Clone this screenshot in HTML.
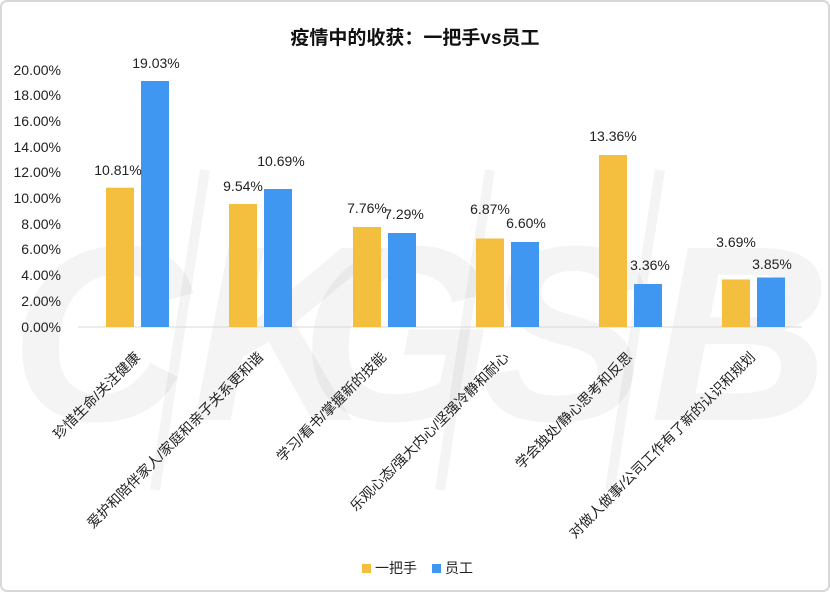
<!DOCTYPE html>
<html><head><meta charset="utf-8"><style>
body{margin:0;background:#fff;}
svg{display:block;font-family:"Liberation Sans","Noto Sans CJK SC",sans-serif;}
</style></head><body>
<svg width="830" height="592" viewBox="0 0 830 592">
<rect x="1" y="1" width="828" height="590" rx="6" fill="#fff" stroke="#d8d8d8" stroke-width="2"/>
<g fill="#000" fill-opacity="0.045" font-size="250" font-weight="bold" font-style="italic" font-family="Liberation Sans,sans-serif">
<text x="10" y="420">CK</text><text x="300" y="420">G</text><text x="480" y="420">S</text><text x="650" y="420">B</text>
</g>
<g stroke="#000" stroke-opacity="0.045" stroke-width="10">
<line x1="155" y1="490" x2="205" y2="170"/><line x1="440" y1="490" x2="490" y2="170"/><line x1="610" y1="490" x2="660" y2="170"/>
</g>
<text x="415" y="44" text-anchor="middle" font-size="19" font-weight="bold" fill="#111">疫情中的收获：一把手vs员工</text>
<g font-size="14" fill="#222" text-anchor="end">
<text x="61" y="332">0.00%</text>
<text x="61" y="306">2.00%</text>
<text x="61" y="280">4.00%</text>
<text x="61" y="254">6.00%</text>
<text x="61" y="229">8.00%</text>
<text x="61" y="203">10.00%</text>
<text x="61" y="177">12.00%</text>
<text x="61" y="152">14.00%</text>
<text x="61" y="126">16.00%</text>
<text x="61" y="100">18.00%</text>
<text x="61" y="75">20.00%</text>
</g>
<line x1="78" y1="327" x2="802" y2="327" stroke="#d9d9d9" stroke-width="1"/>
<g fill="#f4be3f">
<rect x="106" y="187.7" width="28" height="139.3"/>
<rect x="229" y="204" width="28" height="123"/>
<rect x="353" y="227" width="28" height="100"/>
<rect x="476" y="238.5" width="28" height="88.5"/>
<rect x="599" y="155" width="28" height="172"/>
<rect x="722" y="279.5" width="28" height="47.5"/>
</g>
<g fill="#3f97f2">
<rect x="141" y="81" width="28" height="246"/>
<rect x="264" y="189" width="28" height="138"/>
<rect x="388" y="233" width="28" height="94"/>
<rect x="511" y="242" width="28" height="85"/>
<rect x="634" y="284" width="28" height="43"/>
<rect x="757" y="277.5" width="28" height="49.5"/>
</g>
<g font-size="14" fill="#222" text-anchor="middle">
<text x="118" y="175">10.81%</text><text x="156" y="68">19.03%</text>
<text x="243" y="191">9.54%</text><text x="281" y="166">10.69%</text>
<text x="367" y="213">7.76%</text><text x="404" y="219">7.29%</text>
<text x="490" y="214">6.87%</text><text x="526" y="228">6.60%</text>
<text x="613" y="141">13.36%</text><text x="650" y="270">3.36%</text>
<text x="736" y="247">3.69%</text><text x="772" y="269">3.85%</text>
</g>
<g font-size="14" fill="#222" text-anchor="end">
<text transform="translate(141,358) rotate(-45)">珍惜生命/关注健康</text>
<text transform="translate(264,358) rotate(-45)">爱护和陪伴家人/家庭和亲子关系更和谐</text>
<text transform="translate(387,358) rotate(-45)">学习/看书/掌握新的技能</text>
<text transform="translate(510,358) rotate(-45)">乐观心态/强大内心/坚强冷静和耐心</text>
<text transform="translate(633,358) rotate(-45)">学会独处/静心思考和反思</text>
<text transform="translate(756,358) rotate(-45)">对做人做事/公司工作有了新的认识和规划</text>
</g>
<rect x="362" y="564" width="9" height="9" fill="#f4be3f"/>
<text x="375" y="573" font-size="14" fill="#222">一把手</text>
<rect x="432" y="564" width="9" height="9" fill="#3f97f2"/>
<text x="445" y="573" font-size="14" fill="#222">员工</text>
</svg>
</body></html>
